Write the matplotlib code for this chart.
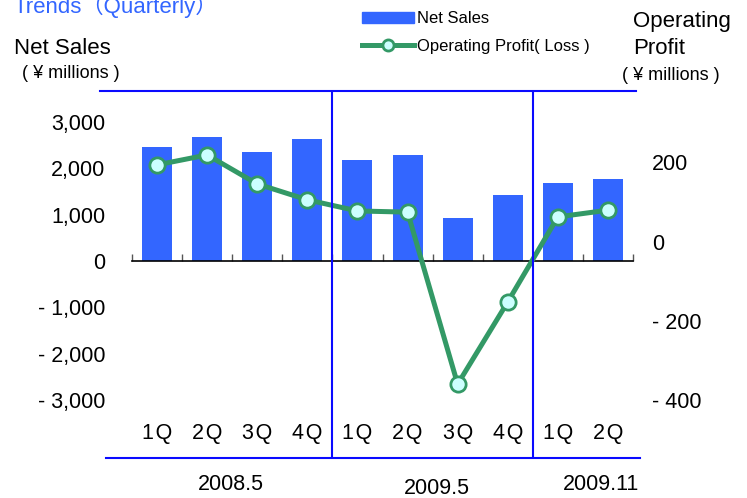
import matplotlib
matplotlib.use("Agg")
import matplotlib.pyplot as plt
import numpy as np
from matplotlib.lines import Line2D
from matplotlib.patches import Patch

plt.rcParams['font.family'] = ['Liberation Sans', 'Noto Sans CJK JP', 'DejaVu Sans']

# data
quarters = ['1Q', '2Q', '3Q', '4Q', '1Q', '2Q', '3Q', '4Q', '1Q', '2Q']
net_sales = [2460, 2680, 2355, 2635, 2180, 2290, 935, 1425, 1690, 1770]
op_profit = [193, 218, 145, 105, 77, 74, -359, -152, 62, 79]
periods = ['2008.5', '2009.5', '2009.11']
period_x = [1.48, 5.59, 8.86]
period_y = [-0.071, -0.082, -0.071]

BAR = '#3366FF'
GREEN = '#339966'
LINEBLUE = '#0a0aff'

W, H = 747, 498
fig = plt.figure(figsize=(W / 100, H / 100), dpi=100)
ax = fig.add_axes([132 / W, (H - 458) / H, 501 / W, 367 / H])
ax2 = ax.twinx()

x = np.arange(len(quarters))
ax.bar(x, net_sales, width=0.6, color=BAR, zorder=2)
ax.set_xlim(-0.5, 9.5)
ax.set_ylim(-4255, 3672)
ax.set_yticks(range(-3000, 3001, 1000))
ax.yaxis.set_major_formatter(plt.FuncFormatter(
    lambda v, p: f"- {abs(v):,.0f}" if v < 0 else f"{v:,.0f}"))
ax.tick_params(axis='y', length=0, pad=19.4, labelsize=15.5)

# category axis at zero
for s in ['top', 'left', 'right']:
    ax.spines[s].set_visible(False)
ax.spines['bottom'].set_position(('data', 0))
ax.spines['bottom'].set_color('black')
ax.spines['bottom'].set_linewidth(1.2)
ax.set_xticks(np.arange(-0.5, 10, 1))
ax.tick_params(axis='x', direction='in', length=5, width=1, color='#555555',
               labelbottom=False)

ax2.plot(x, op_profit, color=GREEN, lw=3.6, marker='o', ms=11,
         mfc='#CCFFFF', mec=GREEN, mew=2, zorder=3)
ax2.set_ylim(-545, 379)
ax2.set_yticks([-400, -200, 0, 200])
ax2.yaxis.set_major_formatter(plt.FuncFormatter(
    lambda v, p: f"- {abs(v):.0f}" if v < 0 else f"{v:.0f}"))
ax2.tick_params(axis='y', length=0, pad=13.7, labelsize=15.5)
for s in ax2.spines.values():
    s.set_visible(False)

# blue frame lines
for xv in [3.5, 7.5]:
    ax2.axvline(xv, color=LINEBLUE, lw=1.5, zorder=4)
ax2.plot([-0.064, 1.006], [1, 1], transform=ax2.transAxes, color=LINEBLUE,
         lw=1.5, clip_on=False)
ax2.plot([-0.052, 1.014], [0, 0], transform=ax2.transAxes, color=LINEBLUE,
         lw=1.5, clip_on=False)

# category and period labels
tr = ax.get_xaxis_transform()
for i, q in enumerate(quarters):
    ax.text(i, 0.068, q[0] + '\u200a' + q[1], transform=tr, ha='center',
            va='center', fontsize=15.5)
for lab, px, py in zip(periods, period_x, period_y):
    ax.text(px, py, lab, transform=tr, ha='center', va='center', fontsize=15.5)

# titles
fig.text(14 / W, 1 - 13 / H, 'Trends（Quarterly）', color=BAR, fontsize=16,
         va='baseline', ha='left')
fig.text(14 / W, 1 - 49 / H, 'Net Sales', fontsize=16, va='center', ha='left')
fig.text(22 / W, 1 - 74 / H, '( ¥ millions )', fontsize=13, va='center', ha='left')
fig.text(633 / W, 1 - 22 / H, 'Operating', fontsize=16, va='center', ha='left')
fig.text(633 / W, 1 - 48 / H, 'Profit', fontsize=16, va='center', ha='left')
fig.text(622 / W, 1 - 75 / H, '( ¥ millions )', fontsize=13, va='center', ha='left')

handles = [Patch(color=BAR),
           Line2D([], [], color=GREEN, lw=3.6, marker='o', ms=8, mfc='#CCFFFF',
                  mec=GREEN, mew=2)]
fig.legend(handles, ['Net Sales', 'Operating Profit( Loss )'], loc='upper left',
           bbox_to_anchor=(362 / W, 1 - 11 / H), frameon=False, fontsize=12,
           handlelength=3.1, handleheight=0.65, handletextpad=0.2,
           labelspacing=0.75, borderpad=0, borderaxespad=0, numpoints=1)

fig.savefig('out.png', dpi=100)
